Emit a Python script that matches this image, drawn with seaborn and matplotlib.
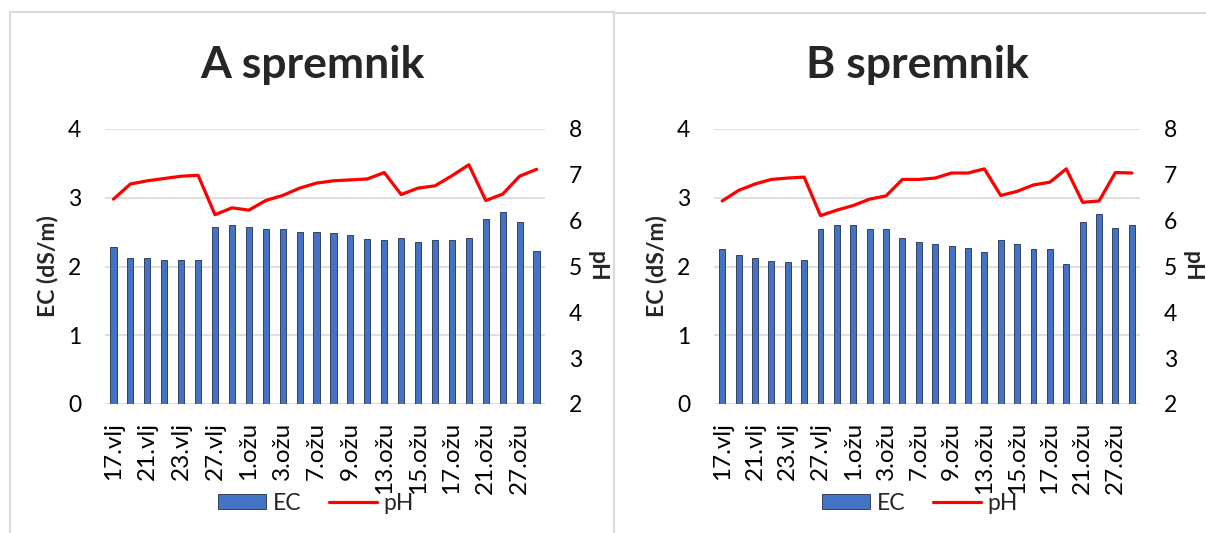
import numpy as np
import matplotlib
matplotlib.use('Agg')
import matplotlib.pyplot as plt
from matplotlib.lines import Line2D
from matplotlib.patches import Patch
import seaborn as sns

# datumi mjerenja (svaki drugi se prikazuje na osi)
datumi = ['17.vlj', '19.vlj', '21.vlj', '22.vlj', '23.vlj', '25.vlj', '27.vlj', '28.vlj',
          '1.ožu', '2.ožu', '3.ožu', '5.ožu', '7.ožu', '8.ožu', '9.ožu', '11.ožu',
          '13.ožu', '14.ožu', '15.ožu', '16.ožu', '17.ožu', '19.ožu', '21.ožu', '23.ožu',
          '27.ožu', '29.ožu']

ec_a = [2.29, 2.13, 2.12, 2.09, 2.09, 2.09, 2.57, 2.60, 2.58, 2.55, 2.55, 2.50, 2.50,
        2.48, 2.46, 2.40, 2.38, 2.41, 2.36, 2.38, 2.38, 2.41, 2.69, 2.79, 2.65, 2.22]
ph_a = [6.47, 6.80, 6.87, 6.92, 6.97, 6.99, 6.13, 6.28, 6.23, 6.44, 6.55, 6.71, 6.82,
        6.87, 6.89, 6.91, 7.05, 6.57, 6.71, 6.76, 6.98, 7.22, 6.44, 6.58, 6.97, 7.12]

ec_b = [2.26, 2.16, 2.13, 2.08, 2.07, 2.09, 2.54, 2.61, 2.60, 2.54, 2.54, 2.41, 2.35,
        2.33, 2.30, 2.27, 2.21, 2.39, 2.33, 2.25, 2.25, 2.04, 2.65, 2.77, 2.56, 2.60]
ph_b = [6.43, 6.66, 6.80, 6.90, 6.93, 6.95, 6.11, 6.23, 6.33, 6.47, 6.54, 6.90, 6.90,
        6.93, 7.04, 7.04, 7.13, 6.55, 6.64, 6.78, 6.84, 7.13, 6.40, 6.43, 7.05, 7.04]

sns.set_theme(style='white')
plt.rcParams['font.family'] = ['Lato', 'DejaVu Sans']

W, H = 1206, 533
fig = plt.figure(figsize=(W / 100, H / 100), dpi=100)

PLAVA = '#4472C4'
RUB = '#1f2f4f'
SIVA = '#D9D9D9'
FS = 16.5


def crtaj(lijevo, sirina, naslov, ec, ph, naslov_x, leg_x):
    ax = fig.add_axes([lijevo / W, (H - 404) / H, sirina / W, 275 / H])
    sns.barplot(x=datumi, y=ec, ax=ax, color=PLAVA, saturation=1, width=0.36,
                edgecolor=RUB, linewidth=0.6)
    ax2 = ax.twinx()
    sns.lineplot(x=datumi, y=ph, ax=ax2, color='red', linewidth=2.3, sort=False)

    ax.set_ylim(0, 4)
    ax.set_yticks([0, 1, 2, 3, 4])
    ax2.set_ylim(2, 8)
    ax2.set_yticks(range(2, 9))
    ax.set_xlim(-0.5, len(datumi) - 0.5)
    ax.set_xticks(range(0, len(datumi), 2))
    ax.set_xticklabels(datumi[::2], rotation=90)

    ax.yaxis.grid(True, color=SIVA, linewidth=1.2)
    ax.set_axisbelow(True)
    for a in (ax, ax2):
        for s in a.spines.values():
            s.set_visible(False)
    ax.tick_params(axis='y', length=0, pad=17, labelsize=FS, labelcolor='black')
    ax.tick_params(axis='x', length=0, pad=13, labelsize=17.5, labelcolor='black')
    ax2.tick_params(axis='y', length=0, pad=17, labelsize=FS, labelcolor='black')

    ax.set_ylabel('EC (dS/m)', fontsize=FS, fontweight='bold', labelpad=7)
    ax2.set_ylabel('pH', fontsize=FS, fontweight='bold', rotation=270, va='bottom',
                   labelpad=3)
    ax.set_xlabel('')

    fig.text(naslov_x / W, (H - 65) / H, naslov, fontsize=32,
             fontweight='bold', ha='center', va='center')

    rucke = [Patch(facecolor=PLAVA, edgecolor=RUB, linewidth=0.6, label='EC'),
             Line2D([], [], color='red', linewidth=2.3, label='pH')]
    fig.legend(handles=rucke, loc='center', bbox_to_anchor=(leg_x / W, (H - 503) / H),
               ncol=2, frameon=False, fontsize=FS, handlelength=2.1, handleheight=0.6,
               handletextpad=0.3, columnspacing=1.2, borderpad=0)


crtaj(105, 440, 'A spremnik', ec_a, ph_a, 312, 316)
crtaj(714, 426, 'B spremnik', ec_b, ph_b, 917, 920)

# okviri grafikona
for (x0, y0, x1, y1) in [(10, 12, 10, H), (10, 12, 614, 12), (614, 12, 614, H), (616, 13, W, 13)]:
    fig.add_artist(Line2D([x0 / W, x1 / W], [1 - y0 / H, 1 - y1 / H], color=SIVA, linewidth=1.5))

fig.savefig('out.png', dpi=100)
